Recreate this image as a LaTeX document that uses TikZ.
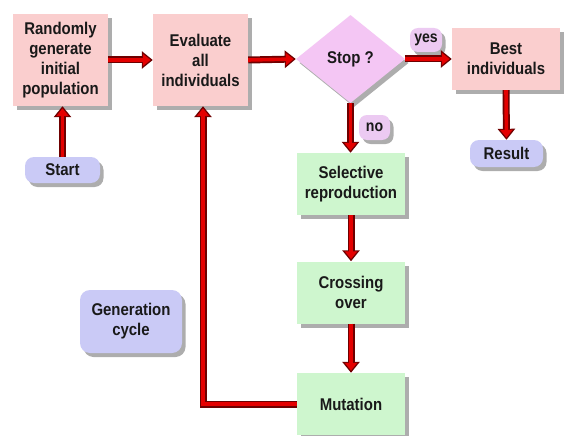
\documentclass[tikz,border=0pt]{standalone}
\usepackage{fontspec}
\setmainfont{Liberation Sans}[FakeStretch=0.88]
\usetikzlibrary{shapes.geometric,arrows.meta,shadows}
\definecolor{pinkbox}{RGB}{250,206,206}
\definecolor{diamondc}{RGB}{244,198,244}
\definecolor{greenbox}{RGB}{206,246,206}
\definecolor{lavbox}{RGB}{202,202,246}
\definecolor{bubblec}{RGB}{236,202,242}
\definecolor{arrred}{RGB}{228,0,0}
\definecolor{arrdark}{RGB}{110,0,0}
\definecolor{txt}{RGB}{25,25,25}
\tikzset{
  shad/.style={drop shadow={shadow xshift=3.5pt,shadow yshift=-4pt,fill=black,opacity=0.32}},
  lbl/.style={text=txt,font=\fontsize{17}{20}\selectfont\bfseries,align=center,inner sep=0pt},
  pbox/.style={lbl,shad,fill=pinkbox,rectangle},
  gbox/.style={lbl,shad,fill=greenbox,rectangle,minimum width=108pt,minimum height=62pt},
  term/.style={lbl,shad,fill=lavbox,rectangle,rounded corners=9pt},
  bubble/.style={lbl,shad,fill=bubblec,rectangle,rounded corners=8pt,font=\fontsize{16}{18}\selectfont\bfseries},
  arr/.style={draw=arrdark,line width=7pt,-{Triangle[length=11pt,width=17pt]},
    postaction={draw=arrred,line width=3.6pt,shorten >=2.2pt,-{Triangle[length=7.8pt,width=12pt]}}},
}
\begin{document}
\begin{tikzpicture}[x=1pt,y=-1pt]
\useasboundingbox (0,0) rectangle (565,436);
\fill[white] (0,0) rectangle (565,436);
% nodes
\node[pbox,minimum width=95pt,minimum height=92pt] (rand) at (60.5,60) {Randomly\\generate\\initial\\population};
\node[pbox,minimum width=95pt,minimum height=92pt] (eval) at (200.5,60) {Evaluate\\all\\individuals};
\node[lbl,shad,diamond,fill=diamondc,minimum width=109pt,minimum height=88pt] (stop) at (350.5,59) {Stop ?};
\node[pbox,minimum width=108pt,minimum height=62pt] (best) at (506,59) {Best\\individuals};
\node[term,minimum width=73pt,minimum height=27pt] (result) at (506.5,153.5) {Result};
\node[term,minimum width=75pt,minimum height=26pt] (start) at (62.5,170) {Start};
\node[gbox] (sel) at (351,184) {Selective\\reproduction};
\node[gbox] (cross) at (351,292.5) {Crossing\\over};
\node[gbox] (mut) at (351,404) {Mutation};
\node[term,rounded corners=10pt,minimum width=102pt,minimum height=63pt] (gen) at (131,321.5) {Generation\\cycle};
\node[bubble,minimum width=32pt,minimum height=24pt] (yes) at (426,40) {yes};
\node[bubble,minimum width=31pt,minimum height=25pt] (no) at (374.5,127.5) {no};
\coordinate (fb) at (203,404);
% connectors
\draw[arr] (rand.east) -- (eval.west);
\draw[arr] (eval.east) -- (stop.west);
\draw[arr] (stop.east) -- (best.west);
\draw[arr] (best.south) -- (result.north);
\draw[arr] (start.north) -- (start.north |- rand.south);
\draw[arr] (stop.south) -- (stop.south |- sel.north);
\draw[arr] (sel.south) -- (cross.north);
\draw[arr] (cross.south) -- (mut.north);
\draw[arr] (mut.west) -- (fb) -- (fb |- eval.south);
\end{tikzpicture}
\end{document}
